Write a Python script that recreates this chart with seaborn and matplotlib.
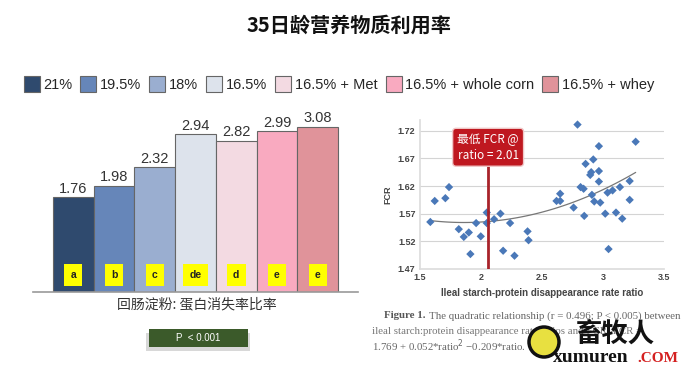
import numpy as np
import pandas as pd
import matplotlib
matplotlib.use("Agg")
import matplotlib.pyplot as plt
import seaborn as sns
from matplotlib.patches import Rectangle, Patch, Ellipse

# ---- data ----
groups = ["21%", "19.5%", "18%", "16.5%", "16.5% + Met", "16.5% + whole corn", "16.5% + whey"]
ratio_vals = [1.76, 1.98, 2.32, 2.94, 2.82, 2.99, 3.08]
sig_letters = ["a", "b", "c", "de", "d", "e", "e"]
bar_colors = ["#2f4a6e", "#6686b9", "#9aaed0", "#dde3ec", "#f3dae2", "#f9aac0", "#e0939a"]

ratio_x = [1.587, 1.623, 1.710, 1.740, 1.820, 1.861, 1.902, 1.915, 1.962, 2.000,
           2.049, 2.049, 2.109, 2.161, 2.183, 2.240, 2.276, 2.383, 2.391, 2.620,
           2.650, 2.650, 2.760, 2.792, 2.817, 2.842, 2.847, 2.858, 2.896, 2.904,
           2.910, 2.921, 2.929, 2.967, 2.967, 2.967, 2.978, 3.019, 3.038, 3.046,
           3.079, 3.107, 3.139, 3.158, 3.219, 3.219, 3.268]
fcr_y = [1.555, 1.593, 1.598, 1.618, 1.542, 1.528, 1.536, 1.497, 1.553, 1.529,
         1.553, 1.572, 1.560, 1.570, 1.503, 1.553, 1.494, 1.538, 1.522, 1.593,
         1.606, 1.593, 1.581, 1.731, 1.618, 1.615, 1.566, 1.660, 1.640, 1.645,
         1.604, 1.668, 1.592, 1.692, 1.647, 1.628, 1.590, 1.570, 1.608, 1.506,
         1.612, 1.572, 1.618, 1.561, 1.629, 1.595, 1.700]
best_ratio = 2.06
fcr_ticks = [1.47, 1.52, 1.57, 1.62, 1.67, 1.72]
ratio_ticks = [1.5, 2, 2.5, 3, 3.5]

sns.set_theme(style="white")
plt.rcParams['font.family'] = ['Liberation Sans', 'Noto Sans CJK SC', 'DejaVu Sans']
cjk = ['Noto Sans CJK SC', 'DejaVu Sans']

fig = plt.figure(figsize=(6.98, 3.67), dpi=100)
W, H = 698, 367

def fx(px):
    return px / W

def fy(py):
    return 1 - py / H

# title
fig.text(0.5, fy(25), "35日龄营养物质利用率", ha="center", va="center",
         fontsize=14.5, fontweight="bold", family=cjk, color="#111111")

# legend
handles = [Patch(facecolor=c, edgecolor="#666666", linewidth=0.8) for c in bar_colors]
fig.legend(handles, groups, loc="center", bbox_to_anchor=(fx(339), fy(84)), ncol=7,
           frameon=False, fontsize=10.5, handlelength=1.1, handleheight=1.3,
           handletextpad=0.25, columnspacing=0.55, borderaxespad=0)

# ---- bar chart ----
ax1 = fig.add_axes([fx(33), fy(291.7), fx(325), (291.7 - 120.2) / H])
df = pd.DataFrame({"group": groups, "ratio": ratio_vals})
sns.barplot(data=df, x="group", y="ratio", hue="group", palette=bar_colors,
            saturation=1, width=1.0, dodge=False, legend=False, edgecolor="#666666",
            linewidth=0.8, ax=ax1)
for cont in ax1.containers:
    ax1.bar_label(cont, fmt="%.2f", padding=1, fontsize=10.5, color="#333333")
for i, lab in enumerate(sig_letters):
    ax1.text(i, 0.31, lab, ha="center", va="center", fontsize=7.5, fontweight="bold",
             color="#222222",
             bbox=dict(boxstyle="square,pad=0.6", facecolor="#ffff00", edgecolor="none"))
ax1.set_xlim(-0.99, 6.99)
ax1.set_ylim(0, 3.2)
ax1.set_xticks([])
ax1.set_yticks([])
ax1.set_xlabel("")
ax1.set_ylabel("")
for s in ["top", "left", "right"]:
    ax1.spines[s].set_visible(False)
ax1.spines["bottom"].set_color("#999999")
ax1.spines["bottom"].set_linewidth(1.2)
ax1.patch.set_alpha(0)

fig.text(fx(197), fy(304), "回肠淀粉: 蛋白消失率比率", ha="center", va="center",
         fontsize=10, family=cjk, color="#333333")

# P value box with shadow
fig.patches.append(Rectangle((fx(146), fy(351)), fx(104), 18 / H, transform=fig.transFigure,
                             facecolor="#c8c8c8", edgecolor="none", alpha=0.7, zorder=1))
fig.patches.append(Rectangle((fx(149), fy(347)), fx(99), 18 / H, transform=fig.transFigure,
                             facecolor="#3b5a2a", edgecolor="none", zorder=2))
fig.text(fx(198), fy(338), "P  < 0.001", ha="center", va="center", fontsize=7,
         color="white", zorder=3)

# ---- scatter ----
ax2 = fig.add_axes([fx(419.7), fy(269), fx(664 - 419.7), (269 - 119.6) / H])
sdf = pd.DataFrame({"ratio": ratio_x, "fcr": fcr_y})
sns.regplot(data=sdf, x="ratio", y="fcr", order=2, ci=None, scatter=False,
            line_kws=dict(color="#777777", lw=0.9), ax=ax2)
sns.scatterplot(data=sdf, x="ratio", y="fcr", marker="D", s=18, color="#4a78b8",
                edgecolor="none", ax=ax2, zorder=3)
ax2.axvline(best_ratio, ymin=0, ymax=(1.668 - 1.47) / 0.27, color="#a8232a", lw=2, zorder=4)
ax2.text(best_ratio, 1.69, "最低 FCR @\nratio = 2.01", ha="center", va="center", fontsize=8.5,
         family=cjk, color="white", linespacing=1.25, zorder=5,
         bbox=dict(boxstyle="round,pad=0.4,rounding_size=0.3", facecolor="#bf1820",
                   edgecolor="#f0c8c8", lw=1))
ax2.set_xlim(1.5, 3.5)
ax2.set_ylim(1.47, 1.74)
ax2.set_xticks(ratio_ticks)
ax2.set_xticklabels(["1.5", "2", "2.5", "3", "3.5"])
ax2.set_yticks(fcr_ticks)
ax2.set_yticklabels([f"{t:.2f}" for t in fcr_ticks])
ax2.tick_params(labelsize=6.5, colors="#444444", length=0, pad=3)
for lab in ax2.get_xticklabels() + ax2.get_yticklabels():
    lab.set_fontweight("bold")
ax2.yaxis.grid(True, color="#d4d4d4", lw=0.8)
ax2.xaxis.grid(False)
for s in ["top", "right"]:
    ax2.spines[s].set_visible(False)
ax2.spines["left"].set_color("#dddddd")
ax2.spines["bottom"].set_color("#dddddd")
ax2.set_xlabel("Ileal starch-protein disappearance rate ratio", fontsize=7,
               fontweight="bold", color="#444444", labelpad=4)
ax2.set_ylabel("FCR", fontsize=6.5, fontweight="bold", color="#444444", labelpad=4)

# caption
serif = ['Liberation Serif', 'DejaVu Serif']
fig.text(fx(384), fy(316), "Figure 1.", ha="left", va="center", fontsize=7.8,
         fontweight="bold", family=serif, color="#555555")
fig.text(fx(429), fy(316), "The quadratic relationship (r = 0.496; P < 0.005) between",
         ha="left", va="center", fontsize=7.8, family=serif, color="#666666")
fig.text(fx(372), fy(331), "ileal starch:protein disappearance rate ratios and FCR: FCR =",
         ha="left", va="center", fontsize=7.8, family=serif, color="#777777")
fig.text(fx(372), fy(346), "1.769 + 0.052*ratio$^2$ \u22120.209*ratio.",
         ha="left", va="center", fontsize=7.8, family=serif, color="#666666")

# watermark
fig.patches.append(Ellipse((fx(544), fy(342)), fx(30), 30 / H, transform=fig.transFigure,
                           facecolor="#e8e040", edgecolor="#111111", lw=2.5, zorder=6))
fig.text(fx(615), fy(334), "畜牧人", ha="center", va="center", fontsize=19,
         fontweight="bold", family=cjk, color="#111111", zorder=7)
fig.text(fx(553), fy(357.5), "xumuren", ha="left", va="center", fontsize=14,
         fontweight="bold", family=serif, color="#111111", zorder=7)
fig.text(fx(637), fy(358), ".COM", ha="left", va="center", fontsize=11,
         fontweight="bold", family=serif, color="#d42020", zorder=7)

fig.savefig("out.png", dpi=100, facecolor="white")
